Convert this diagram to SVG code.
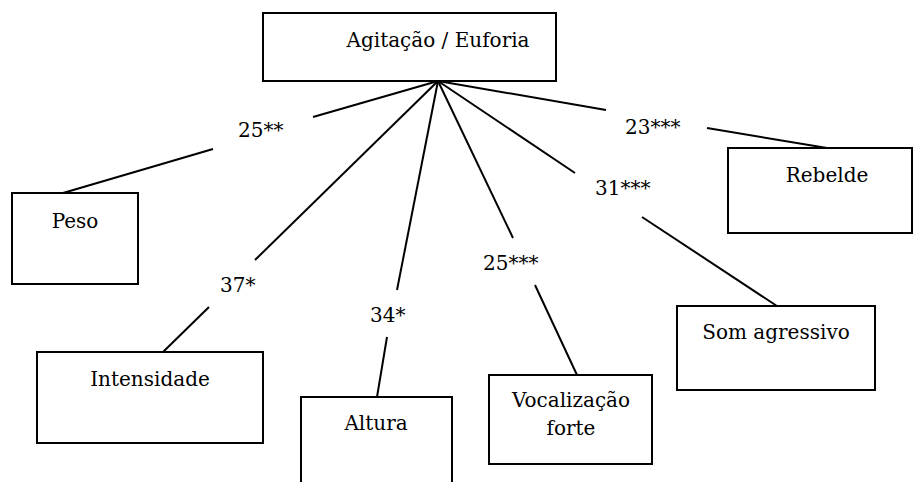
<svg xmlns="http://www.w3.org/2000/svg" width="914" height="482" viewBox="0 0 914 482">
<style>
.box{fill:#fff;stroke:#000;stroke-width:2}
text{font-family:"DejaVu Serif",serif;font-size:20px;fill:#000}
.m{text-anchor:middle}
.c line{stroke:#000;stroke-width:2}
</style>
<rect width="914" height="482" fill="#fff"/>
<g id="connectors" class="c">
<line x1="438" y1="81" x2="313" y2="117"/>
<line x1="213" y1="149" x2="63" y2="193"/>
<line x1="438" y1="81" x2="255" y2="260"/>
<line x1="209" y1="307" x2="163" y2="352"/>
<line x1="438" y1="81" x2="397" y2="290"/>
<line x1="387" y1="337" x2="377" y2="397"/>
<line x1="438" y1="81" x2="513" y2="238"/>
<line x1="535" y1="285" x2="577" y2="375"/>
<line x1="438" y1="81" x2="575" y2="173"/>
<line x1="642" y1="217" x2="777" y2="306"/>
<line x1="438" y1="81" x2="606" y2="110"/>
<line x1="707" y1="128" x2="827" y2="148"/>
</g>
<g id="labels">
<text x="238" y="137">25**</text>
<text x="220" y="292">37*</text>
<text x="370" y="322">34*</text>
<text x="483" y="270">25***</text>
<text x="595" y="195">31***</text>
<text x="625" y="134">23***</text>
</g>
<g id="agitacao"><rect class="box" x="263" y="13" width="293" height="68"/><text class="m" x="438" y="47">Agitação / Euforia</text></g>
<g id="peso"><rect class="box" x="12" y="193" width="126" height="91"/><text class="m" x="75" y="228">Peso</text></g>
<g id="intensidade"><rect class="box" x="37" y="352" width="226" height="91"/><text class="m" x="150" y="386">Intensidade</text></g>
<g id="altura"><rect class="box" x="301" y="397" width="151" height="95"/><text class="m" x="376" y="430">Altura</text></g>
<g id="vocalizacao"><rect class="box" x="489" y="375" width="163" height="89"/><text class="m" x="571" y="407">Vocalização</text><text class="m" x="571" y="435">forte</text></g>
<g id="som"><rect class="box" x="677" y="306" width="198" height="84"/><text class="m" x="776" y="339">Som agressivo</text></g>
<g id="rebelde"><rect class="box" x="728" y="148" width="184" height="85"/><text class="m" x="827" y="182">Rebelde</text></g>
</svg>
